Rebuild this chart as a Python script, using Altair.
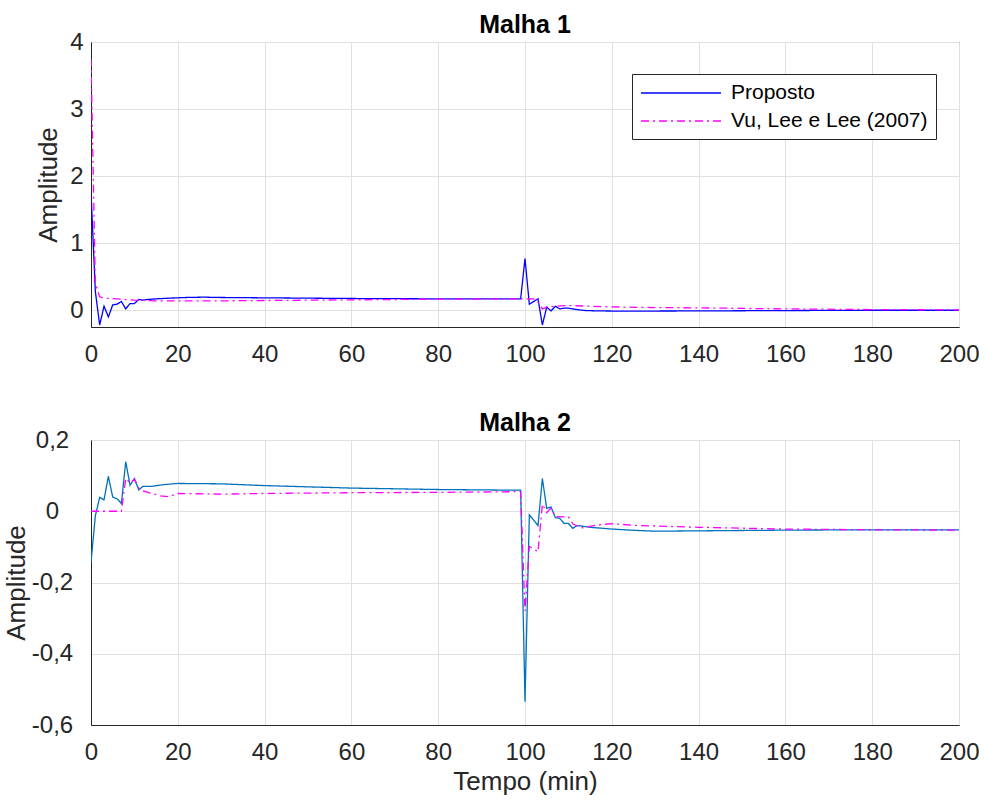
import altair as alt
import pandas as pd

FONT = "Liberation Sans"
SERIES = ["Proposto", "Vu, Lee e Lee (2007)"]

# ---- Malha 1 ----
m1_prop_t = [0, 1, 2, 3, 4, 5, 6, 7, 8, 9, 10, 11, 12, 13, 15, 18, 22, 26, 30, 40, 50, 60, 70, 80, 90, 99,
             100, 101, 102, 103, 104, 105, 106, 107, 108, 109, 110, 112, 114, 117, 120, 130, 140, 160, 180, 200]
m1_prop_y = [1.77, 0.28, -0.22, 0.06, -0.10, 0.08, 0.09, 0.13, 0.02, 0.10, 0.10, 0.16, 0.15, 0.16, 0.17, 0.18, 0.19, 0.195, 0.19, 0.185, 0.18, 0.175, 0.172, 0.17, 0.17, 0.17,
             0.77, 0.09, 0.13, 0.17, -0.22, 0.045, -0.01, 0.06, 0.02, 0.03, 0.03, 0.01, -0.005, -0.01, -0.012, -0.012, -0.01, -0.005, 0.0, 0.0]
m1_vu_t = [0, 1, 2, 3, 6, 10, 15, 20, 30, 40, 60, 80, 99, 100, 101, 102, 103, 104, 105, 107, 110, 115, 120, 130, 140, 160, 180, 200]
m1_vu_y = [3.75, 0.40, 0.20, 0.18, 0.17, 0.15, 0.14, 0.14, 0.14, 0.145, 0.155, 0.165, 0.17, 0.17, 0.17, 0.17, 0.12, 0.02, 0.045, 0.06, 0.07, 0.06, 0.05, 0.04, 0.035, 0.02, 0.01, 0.005]

# ---- Malha 2 ----
m2_prop_t = [0, 1, 2, 3, 4, 5, 6, 7, 8, 9, 10, 11, 12, 14, 17, 20, 30, 40, 60, 80, 99,
             100, 101, 102, 103, 104, 105, 106, 107, 108, 109, 110, 111, 112, 115, 120, 126, 130, 140, 160, 180, 200]
m2_prop_y = [-0.143, -0.013, 0.039, 0.032, 0.098, 0.040, 0.035, 0.022, 0.139, 0.073, 0.092, 0.060, 0.070, 0.070, 0.075, 0.078, 0.077, 0.072, 0.065, 0.061, 0.059,
             -0.535, -0.010, -0.025, -0.040, 0.092, 0.008, 0.012, -0.018, -0.020, -0.034, -0.034, -0.048, -0.040, -0.045, -0.050, -0.054, -0.056, -0.055, -0.053, -0.052, -0.052]
m2_vu_t = [0, 7, 8, 9, 10, 11, 12, 14, 16, 18, 20, 30, 40, 60, 80, 99,
           100, 101, 102, 103, 104, 105, 106, 107, 109, 110, 111, 113, 117, 120, 126, 140, 160, 180, 200]
m2_vu_y = [0.0, 0.0, 0.092, 0.080, 0.090, 0.065, 0.057, 0.050, 0.043, 0.041, 0.050, 0.048, 0.050, 0.052, 0.053, 0.055,
           -0.280, -0.099, -0.105, -0.114, 0.020, -0.004, 0.009, -0.015, -0.016, -0.015, -0.035, -0.047, -0.038, -0.035, -0.040, -0.045, -0.050, -0.052, -0.053]

x_ticks = list(range(0, 201, 20))
m1_y_ticks = [0, 1, 2, 3, 4]
m2_y_ticks = [-0.6, -0.4, -0.2, 0, 0.2]


def frame(t_a, y_a, t_b, y_b):
    a = pd.DataFrame({"t": t_a, "y": y_a, "serie": SERIES[0]})
    b = pd.DataFrame({"t": t_b, "y": y_b, "serie": SERIES[1]})
    return pd.concat([a, b], ignore_index=True)


legend = alt.Legend(
    title=None, orient="none", legendX=541, legendY=32,
    symbolType="M-1,0H7", symbolSize=400, symbolStrokeWidth=1.3,
    labelOffset=69, labelFont=FONT, labelFontSize=21, labelColor="black",
    padding=8, rowPadding=7, strokeColor="#262626", fillColor="white",
    labelLimit=400,
)

comma_expr = "datum.value == 0 ? '0' : (datum.value < 0 ? '-' : '') + replace(format(abs(datum.value), '.1f'), '.', ',')"


def panel(df, title, ydomain, yticks, colors, show_legend, xtitle, yaxis_kw):
    leg = legend if show_legend else None
    x = alt.X("t:Q", scale=alt.Scale(domain=[0, 200], nice=False, zero=False),
              axis=alt.Axis(values=x_ticks, title=xtitle, labelPadding=15, titlePadding=4,
                            labelFlush=False))
    y = alt.Y("y:Q", scale=alt.Scale(domain=ydomain, nice=False, zero=False),
              axis=alt.Axis(values=yticks, title="Amplitude", labelFlush=False, **yaxis_kw))
    color = alt.Color("serie:N", scale=alt.Scale(domain=SERIES, range=colors), legend=leg)
    dash = alt.StrokeDash("serie:N", scale=alt.Scale(domain=SERIES, range=[[1, 0], [8, 4, 2, 4]]), legend=leg)
    return alt.Chart(df).mark_line(strokeWidth=1.3, clip=True).encode(
        x=x, y=y, color=color, strokeDash=dash
    ).properties(width=868, height=285, title=alt.Title(title, offset=-8))


top = panel(frame(m1_prop_t, m1_prop_y, m1_vu_t, m1_vu_y), "Malha 1", [-0.25, 4], m1_y_ticks,
            ["#0000ff", "#ff00ff"], True, None,
            dict(labelPadding=8, titlePadding=8))
bottom = panel(frame(m2_prop_t, m2_prop_y, m2_vu_t, m2_vu_y), "Malha 2", [-0.6, 0.2], m2_y_ticks,
               ["#0072bd", "#ff00ff"], False, "Tempo (min)",
               dict(labelPadding=39, labelAlign="center", labelExpr=comma_expr, titlePadding=2))

chart = alt.vconcat(top, bottom, spacing=43).resolve_scale(
    color="independent", strokeDash="independent"
).properties(
    padding={"left": 2, "top": 12, "right": 0, "bottom": 0}
).configure_view(
    stroke="#262626", strokeWidth=1
).configure_axis(
    labelFont=FONT, labelFontSize=24, labelColor="#262626",
    titleFont=FONT, titleFontSize=26, titleFontWeight="normal", titleColor="#262626",
    domainColor="#262626", gridColor="#e0e0e0", gridWidth=1, ticks=False,
).configure_title(
    font=FONT, fontSize=25, fontWeight="bold", color="black", anchor="middle"
).configure_legend(
    strokeColor="#262626"
)

chart.save("out.html", embed_options={"renderer": "svg", "actions": False})
